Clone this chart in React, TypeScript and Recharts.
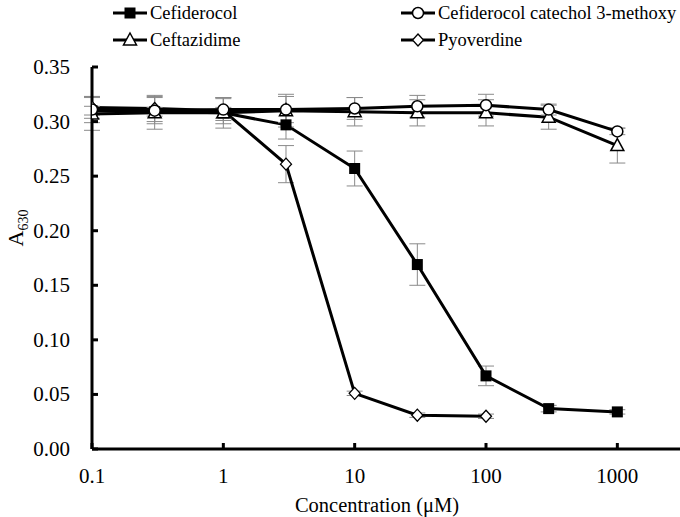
import React from "react";
import { LineChart, Line, XAxis, YAxis, ErrorBar } from "recharts";

const FONT = "Liberation Serif, Tinos, Times New Roman, DejaVu Serif, serif";

// concentrations (µM)
const conc = [0.1, 0.3, 1, 3, 10, 30, 100, 300, 1000];
const concPyo = [0.1, 0.3, 1, 3, 10, 30, 100];

// A630 readings and their errors
const cefiderocol = [0.31, 0.309, 0.308, 0.297, 0.257, 0.169, 0.067, 0.037, 0.034];
const cefiderocolErr = [0.004, 0.004, 0.005, 0.013, 0.016, 0.019, 0.009, 0.003, 0.002];
const methoxy = [0.311, 0.31, 0.311, 0.311, 0.312, 0.314, 0.315, 0.311, 0.291];
const methoxyErr = [0.012, 0.012, 0.01, 0.012, 0.01, 0.01, 0.01, 0.005, 0.003];
const ceftazidime = [0.307, 0.308, 0.308, 0.31, 0.309, 0.308, 0.308, 0.304, 0.278];
const ceftazidimeErr = [0.015, 0.015, 0.014, 0.015, 0.013, 0.012, 0.012, 0.011, 0.016];
const pyoverdine = [0.313, 0.312, 0.31, 0.261, 0.051, 0.031, 0.03];
const pyoverdineErr = [0.01, 0.012, 0.012, 0.017, 0.002, 0.002, 0.002];

const xTicks = [0.1, 1, 10, 100, 1000];
const yTicks = [0, 0.05, 0.1, 0.15, 0.2, 0.25, 0.3, 0.35];

type Kind = "square" | "circle" | "triangle" | "diamond";

const legendItems: { name: string; kind: Kind }[] = [
  { name: "Cefiderocol", kind: "square" },
  { name: "Cefiderocol catechol 3-methoxy", kind: "circle" },
  { name: "Ceftazidime", kind: "triangle" },
  { name: "Pyoverdine", kind: "diamond" },
];

const rows = (xs: number[], ys: number[], errs: number[]) =>
  xs.map((x, i) => ({ x, y: ys[i], err: errs[i] }));

function marker(kind: Kind, cx: number, cy: number) {
  switch (kind) {
    case "square":
      return <rect x={cx - 5.5} y={cy - 5.5} width={11} height={11} fill="#000" />;
    case "circle":
      return <circle cx={cx} cy={cy} r={5.5} fill="#fff" stroke="#000" strokeWidth={1.5} />;
    case "triangle":
      return (
        <path
          d={`M${cx},${cy - 7} L${cx + 6.5},${cy + 5} L${cx - 6.5},${cy + 5} Z`}
          fill="#fff"
          stroke="#000"
          strokeWidth={1.5}
        />
      );
    default:
      return (
        <path
          d={`M${cx},${cy - 6} L${cx + 5.5},${cy} L${cx},${cy + 6} L${cx - 5.5},${cy} Z`}
          fill="#fff"
          stroke="#000"
          strokeWidth={1.3}
        />
      );
  }
}

const dotFor = (kind: Kind) => (p: any) =>
  <g key={`${kind}-${p.index}`}>{marker(kind, p.cx, p.cy)}</g>;

const txt = { fontFamily: FONT, fill: "#000" };

const YTick = ({ x, y, payload }: any) => (
  <g>
    <line x1={x} x2={x + 6} y1={y} y2={y} stroke="#000" strokeWidth={3} />
    <text x={x - 22} y={y} dy={7} textAnchor="end" fontSize={21} style={txt}>
      {payload.value.toFixed(2)}
    </text>
  </g>
);

const XTick = ({ x, y, payload }: any) => (
  <g>
    <line x1={x} x2={x} y1={y} y2={y - 6} stroke="#000" strokeWidth={3} />
    <text x={x} y={y + 34} textAnchor="middle" fontSize={21} style={txt}>
      {String(payload.value)}
    </text>
  </g>
);

function LegendBox() {
  const cols = [113, 401];
  const ys = [13, 40];
  return (
    <svg width={680} height={60} style={{ position: "absolute", left: 0, top: 0 }}>
      {legendItems.map((it, i) => {
        const x0 = cols[i % 2];
        const y = ys[Math.floor(i / 2)];
        return (
          <g key={it.name}>
            <line x1={x0} x2={x0 + 34} y1={y} y2={y} stroke="#000" strokeWidth={3} />
            {marker(it.kind, x0 + 17, y)}
            <text x={x0 + 37} y={y + 6} fontSize={18.5} style={txt}>
              {it.name}
            </text>
          </g>
        );
      })}
    </svg>
  );
}

export default function App() {
  const series = [
    { kind: "diamond" as Kind, data: rows(concPyo, pyoverdine, pyoverdineErr) },
    { kind: "square" as Kind, data: rows(conc, cefiderocol, cefiderocolErr) },
    { kind: "triangle" as Kind, data: rows(conc, ceftazidime, ceftazidimeErr) },
    { kind: "circle" as Kind, data: rows(conc, methoxy, methoxyErr) },
  ];

  return (
    <div
      style={{
        position: "absolute",
        left: 0,
        top: 0,
        width: 680,
        height: 517,
        background: "#fff",
        fontFamily: FONT,
      }}
    >
      <LineChart width={680} height={517} margin={{ top: 67, right: 0, bottom: 0, left: 0 }}>
        <XAxis
          dataKey="x"
          type="number"
          scale="log"
          domain={[0.1, 3000]}
          allowDataOverflow
          ticks={xTicks}
          tick={<XTick />}
          tickSize={0}
          tickMargin={0}
          tickLine={false}
          height={68}
          axisLine={{ stroke: "#000", strokeWidth: 3 }}
          label={{
            content: ({ viewBox }: any) => (
              <text
                x={viewBox.x + viewBox.width / 2 - 9}
                y={viewBox.y + 63}
                textAnchor="middle"
                fontSize={20.5}
                style={txt}
              >
                Concentration (μM)
              </text>
            ),
          }}
        />
        <YAxis
          type="number"
          domain={[0, 0.35]}
          ticks={yTicks}
          tick={<YTick />}
          tickSize={0}
          tickMargin={0}
          tickLine={false}
          width={92}
          axisLine={{ stroke: "#000", strokeWidth: 3 }}
          label={{
            content: () => (
              <text
                transform="translate(23,228) rotate(-90)"
                textAnchor="middle"
                fontSize={22}
                style={txt}
              >
                A
                <tspan fontSize={14} dy={5}>
                  630
                </tspan>
              </text>
            ),
          }}
        />
        {series.map((s) => (
          <Line
            key={s.kind}
            data={s.data}
            dataKey="y"
            type="linear"
            stroke="#000"
            strokeWidth={3}
            dot={dotFor(s.kind)}
            activeDot={false}
            isAnimationActive={false}
          >
            <ErrorBar dataKey="err" direction="y" width={8} stroke="#8a8a8a" strokeWidth={1} />
          </Line>
        ))}
      </LineChart>
      <LegendBox />
    </div>
  );
}
